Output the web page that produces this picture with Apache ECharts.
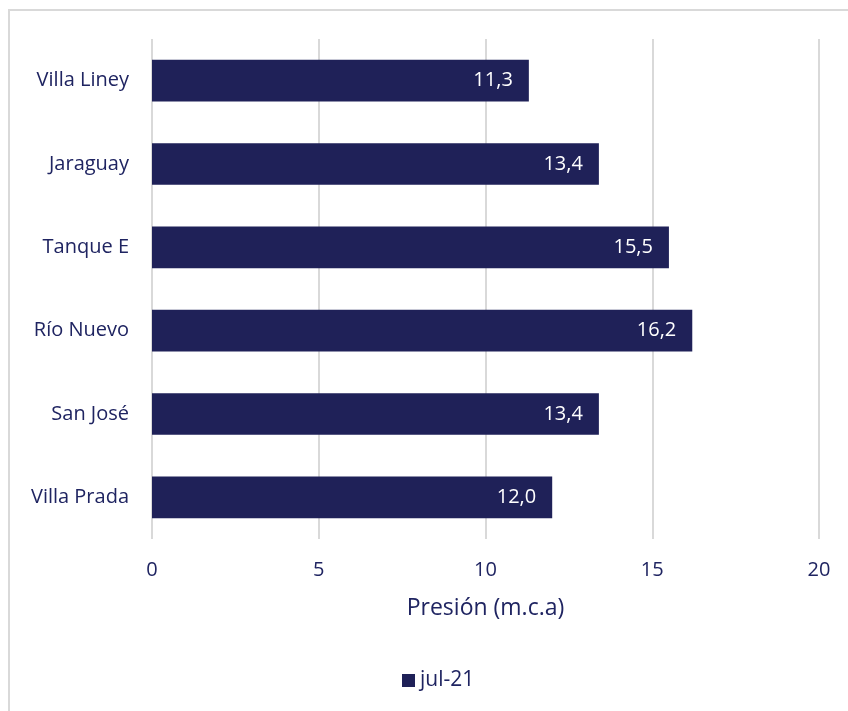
<!DOCTYPE html>
<html>
<head>
<meta charset="utf-8">
<script src="https://cdn.jsdelivr.net/npm/echarts@6/dist/echarts.min.js"></script>
<style>
html,body{margin:0;padding:0;background:#fff;}
#frame{position:absolute;left:8px;top:9px;width:850px;height:710px;border-top:2px solid #d9d9d9;border-left:2px solid #d9d9d9;box-sizing:border-box;}
#c{position:absolute;left:0;top:0;width:848px;height:711px;}
</style>
</head>
<body>
<div id="frame"></div>
<div id="c"></div>
<script>
const categories = ['Villa Liney','Jaraguay','Tanque E','Río Nuevo','San José','Villa Prada'];
const values = [11.3, 13.4, 15.5, 16.2, 13.4, 12.0];
const seriesName = 'jul-21';
const axisTitle = 'Presión (m.c.a)';
const xTicks = {min:0, max:20, interval:5};

const textColor = '#1f2461';
const barColor = '#1f2158';
const font = 'Open Sans';

const chart = echarts.init(document.getElementById('c'), null, {renderer:'canvas'});
chart.setOption({
  animation:false,
  grid:{left:152, right:29, top:39, bottom:172, containLabel:false},
  legend:{
    bottom:15, left:397,
    data:[seriesName],
    icon:'rect', itemWidth:13, itemHeight:13, itemGap:4,
    textStyle:{color:textColor, fontFamily:font, fontSize:21}
  },
  xAxis:{
    type:'value', min:xTicks.min, max:xTicks.max, interval:xTicks.interval,
    name:axisTitle, nameLocation:'middle', nameGap:58,
    nameTextStyle:{color:textColor, fontFamily:font, fontSize:23},
    axisLine:{show:false}, axisTick:{show:false},
    axisLabel:{color:textColor, fontFamily:font, fontSize:20, margin:21},
    splitLine:{show:true, lineStyle:{color:'#d9d9d9', width:2}}
  },
  yAxis:{
    type:'category', data:categories, inverse:true,
    axisLine:{show:false}, axisTick:{show:false},
    axisLabel:{color:textColor, fontFamily:font, fontSize:20, margin:23},
    splitLine:{show:false}
  },
  series:[{
    name:seriesName, type:'bar', data:values,
    barCategoryGap:'50%',
    itemStyle:{color:barColor},
    label:{show:true, position:'insideRight', distance:16, color:'#ffffff', fontFamily:font, fontSize:20,
      formatter:p=>p.value.toFixed(1).replace('.',',')}
  }]
});
</script>
</body>
</html>
